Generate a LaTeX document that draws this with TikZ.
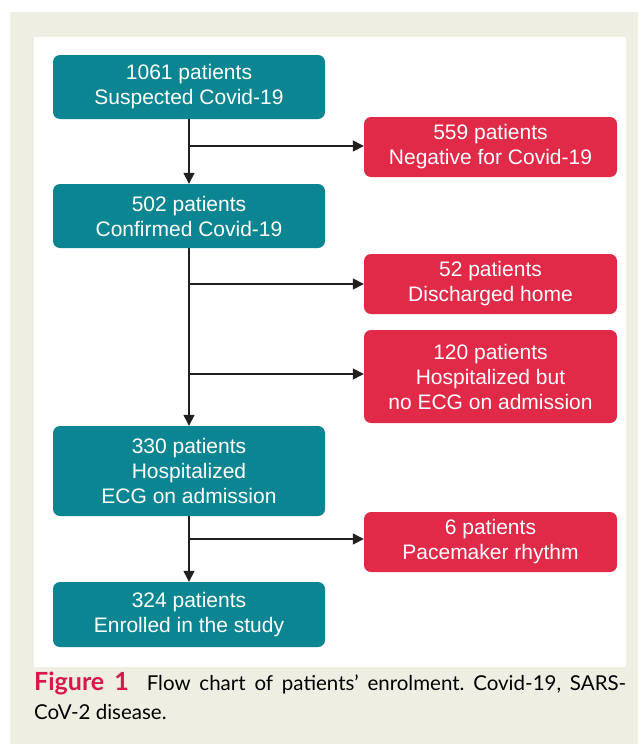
\documentclass[tikz,border=0pt]{standalone}
\usepackage{fontspec}
\setmainfont{Liberation Sans}
\newfontfamily\capfont{Lato}
\usetikzlibrary{arrows.meta}
\definecolor{tealbox}{HTML}{0B8591}
\definecolor{redbox}{HTML}{E02A48}
\definecolor{beige}{HTML}{EFEEE3}
\definecolor{figred}{HTML}{D9184A}
\definecolor{arrowc}{HTML}{231F20}
\frenchspacing
\begin{document}
\begin{tikzpicture}[x=1pt,y=-1pt,
  box/.style={rounded corners=7pt, text=white, align=center, inner sep=0pt,
    font=\fontsize{21}{25}\selectfont},
  tbox/.style={box, fill=tealbox, minimum width=272pt},
  rbox/.style={box, fill=redbox, minimum width=253pt},
  arr/.style={draw=arrowc, line width=1.4pt, -{Triangle[length=11pt,width=11pt]}},
  ln/.style={draw=arrowc, line width=1.4pt}]
\useasboundingbox (0,0) rectangle (638,744);
\fill[beige] (10,12) rectangle (638,744);
\fill[white] (34,37) rectangle (626,667);

\node[tbox, minimum height=64pt] (b1) at (189,87) {1061 patients\\Suspected Covid-19};
\node[tbox, minimum height=64pt] (b2) at (189,216) {502 patients\\Confirmed Covid-19};
\node[tbox, minimum height=90pt] (b4) at (189,471) {330 patients\\Hospitalized\\ECG on admission};
\node[tbox, minimum height=65pt] (b5) at (189,614.5) {324 patients\\Enrolled in the study};

\node[rbox, minimum height=60pt] (r1) at (490.5,147) {559 patients\\Negative for Covid-19};
\node[rbox, minimum height=60pt] (r2) at (490.5,284) {52 patients\\Discharged home};
\node[rbox, minimum height=93pt] (r3) at (490.5,376.5) {120 patients\\Hospitalized but\\no ECG on admission};
\node[rbox, minimum height=60pt] (r4) at (490.5,542) {6 patients\\Pacemaker rhythm};

\coordinate (j1) at (189,146);
\coordinate (j2) at (189,284);
\coordinate (j3) at (189,374);
\coordinate (j4) at (189,539);

\draw[arr] (b1.south) -- (b2.north);
\draw[arr] (b2.south) -- (b4.north);
\draw[arr] (b4.south) -- (b5.north);
\draw[arr] (j1) -- (j1 -| r1.west);
\draw[arr] (j2) -- (j2 -| r2.west);
\draw[arr] (j3) -- (j3 -| r3.west);
\draw[arr] (j4) -- (j4 -| r4.west);

\node[anchor=base west, inner sep=0pt, font=\capfont\fontsize{20.5}{28}\selectfont] (cap1) at (34,690.7)
  {\makebox[592pt][s]{{\fontsize{25}{28}\selectfont\textbf{\color{figred}Figure 1}}\hspace{9pt} Flow chart of patients’ enrolment. Covid-19, SARS-}};
\node[anchor=base west, inner sep=0pt, font=\capfont\fontsize{20.5}{28}\selectfont] (cap2) at (34,719)
  {CoV-2 disease.};
\end{tikzpicture}
\end{document}
